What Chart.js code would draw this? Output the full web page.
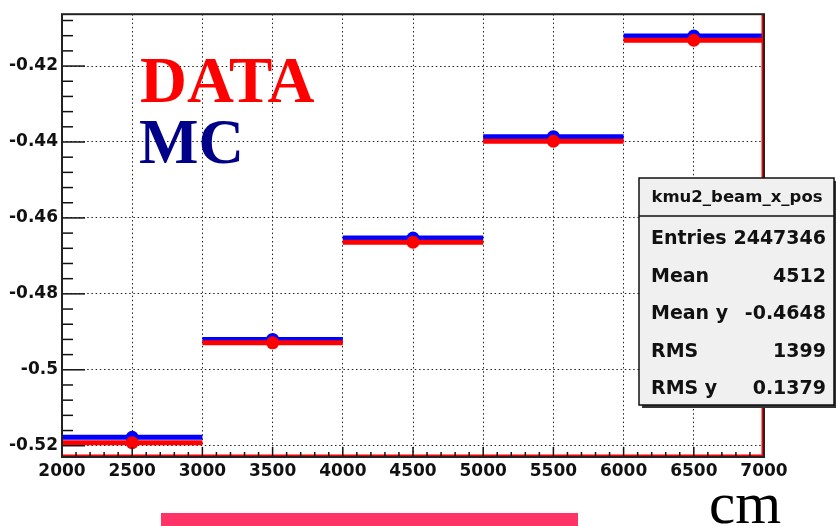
<!DOCTYPE html>
<html>
<head>
<meta charset="utf-8">
<script src="https://cdn.jsdelivr.net/npm/chart.js@4.4.1/dist/chart.umd.min.js"></script>
<style>
  body { margin: 0; background: #fff; }
  #wrap { position: relative; width: 836px; height: 526px; }
</style>
</head>
<body>
<div id="wrap"><canvas id="profile" width="836" height="526"></canvas></div>
<script>
// bin edges (cm) and mean value of each bin
const binEdges = [2000, 3000, 4000, 5000, 6000, 7000];
const dataValues = [-0.5192, -0.4929, -0.4664, -0.4398, -0.4132];
const mcValues = [-0.5178, -0.4920, -0.4653, -0.4386, -0.4121];

// axis labels
const xTicks = [2000, 2500, 3000, 3500, 4000, 4500, 5000, 5500, 6000, 6500, 7000];
const yTicks = [-0.52, -0.5, -0.48, -0.46, -0.44, -0.42];

// stats box
const statTitle = "kmu2_beam_x_pos";
const statNames = ["Entries", "Mean", "Mean y", "RMS", "RMS y"];
const statValues = ["2447346", "4512", "-0.4648", "1399", "0.1379"];

const RED = "#ff0000";
const BLUE = "#0000ff";

// one horizontal bar per bin, a null point in between so bins are not joined
function binSegments(values) {
  let pts = [];
  values.forEach((v, i) => {
    pts.push({x: binEdges[i], y: v});
    pts.push({x: binEdges[i + 1], y: v});
    pts.push({x: binEdges[i + 1], y: null});
  });
  return pts;
}

function binCentres(values) {
  return values.map((v, i) => ({x: (binEdges[i] + binEdges[i + 1]) / 2, y: v}));
}

// ### FRAME, TICKS, TEXT ###
const rootStyle = {
  id: "rootStyle",
  afterDatasetsDraw(chart) {
    let ctx = chart.ctx;
    let area = chart.chartArea;
    let xs = chart.scales.x;
    let ys = chart.scales.y;
    ctx.save();

    // red histogram edges on the right and bottom
    ctx.strokeStyle = RED;
    ctx.lineWidth = 2;
    ctx.beginPath();
    ctx.moveTo(area.right - 1.5, area.top);
    ctx.lineTo(area.right - 1.5, area.bottom - 1.5);
    ctx.lineTo(area.left, area.bottom - 1.5);
    ctx.stroke();

    // ticks
    ctx.strokeStyle = "#111";
    ctx.lineWidth = 1.5;
    let yStep = (yTicks[1] - yTicks[0]) / 5;
    for (let k = -140; k <= -95; k++) {
      let v = k * yStep;
      if (v < ys.min || v > ys.max) continue;
      let py = ys.getPixelForValue(v);
      let len = (k % 5 == 0) ? 23 : 11;
      ctx.beginPath();
      ctx.moveTo(area.left, py);
      ctx.lineTo(area.left + len, py);
      ctx.stroke();
    }
    let xStep = (xTicks[1] - xTicks[0]) / 5;
    for (let v = xTicks[0]; v <= xTicks[xTicks.length - 1]; v += xStep) {
      let px = xs.getPixelForValue(v);
      let len = ((v - xTicks[0]) % (xStep * 5) == 0) ? 10 : 5;
      ctx.beginPath();
      ctx.moveTo(px, area.bottom);
      ctx.lineTo(px, area.bottom - len);
      ctx.stroke();
    }

    // frame
    ctx.strokeStyle = "#222";
    ctx.lineWidth = 2;
    ctx.strokeRect(area.left, area.top, area.right - area.left, area.bottom - area.top);
    ctx.restore();
  },
  afterDraw(chart) {
    let ctx = chart.ctx;
    ctx.save();

    // DATA / MC labels
    ctx.textAlign = "left";
    ctx.textBaseline = "alphabetic";
    ctx.font = "bold 65px 'Liberation Serif'";
    ctx.fillStyle = RED;
    ctx.fillText("DATA", 140, 102);
    ctx.font = "bold 63px 'Liberation Serif'";
    ctx.fillStyle = "#000088";
    ctx.fillText("MC", 139, 163);

    // axis unit
    ctx.fillStyle = "#000";
    ctx.font = "59px 'Liberation Serif'";
    ctx.fillText("cm", 709, 523);

    // pink bar under the plot
    ctx.fillStyle = "#ff3366";
    ctx.fillRect(161, 513, 417, 13);

    // stats box
    let bx = 639, by = 178, bw = 195, bh = 227;
    ctx.fillStyle = "#333";
    ctx.fillRect(bx + 3, by + 3, bw, bh);
    ctx.fillStyle = "#f0f0f0";
    ctx.fillRect(bx, by, bw, bh);
    ctx.strokeStyle = "#111";
    ctx.lineWidth = 1.5;
    ctx.strokeRect(bx, by, bw, bh);
    ctx.beginPath();
    ctx.moveTo(bx, 216);
    ctx.lineTo(bx + bw, 216);
    ctx.stroke();

    ctx.fillStyle = "#111";
    ctx.font = "bold 16.5px 'DejaVu Sans'";
    ctx.textAlign = "center";
    ctx.fillText(statTitle, 737, 202);

    ctx.font = "bold 19px 'DejaVu Sans'";
    statNames.forEach((name, i) => {
      let base = 244 + i * 37.5;
      ctx.textAlign = "left";
      ctx.fillText(name, 651, base);
      ctx.textAlign = "right";
      ctx.fillText(statValues[i], 826, base);
    });
    ctx.restore();
  }
};

const tickFont = {family: "'DejaVu Sans'", size: 17, weight: "bold"};

new Chart(document.querySelector("#profile"), {
  type: "line",
  data: {
    datasets: [
      {
        label: "DATA points",
        data: binCentres(dataValues),
        showLine: false,
        pointRadius: 6.5,
        pointBackgroundColor: RED,
        pointBorderWidth: 0,
        order: 0
      },
      {
        label: "DATA",
        data: binSegments(dataValues),
        borderColor: RED,
        borderWidth: 5,
        pointRadius: 0,
        spanGaps: false,
        order: 1
      },
      {
        label: "MC points",
        data: binCentres(mcValues),
        showLine: false,
        pointRadius: 6.5,
        pointBackgroundColor: BLUE,
        pointBorderWidth: 0,
        order: 2
      },
      {
        label: "MC",
        data: binSegments(mcValues),
        borderColor: BLUE,
        borderWidth: 5,
        pointRadius: 0,
        spanGaps: false,
        order: 3
      }
    ]
  },
  options: {
    responsive: false,
    animation: false,
    layout: { padding: { top: 13, right: 72, left: 0, bottom: 0 } },
    plugins: { legend: { display: false }, tooltip: { enabled: false } },
    scales: {
      x: {
        type: "linear",
        min: 2000,
        max: 7000,
        afterBuildTicks: (scale) => { scale.ticks = xTicks.map(v => ({value: v})); },
        afterFit: (scale) => { scale.height = 69; },
        grid: { color: "#222", lineWidth: 1, drawTicks: false },
        border: { display: false, dash: [1.5, 2.7] },
        ticks: {
          autoSkip: false, maxRotation: 0, padding: 4, color: "#111", font: tickFont,
          callback: (v) => String(v)
        }
      },
      y: {
        type: "linear",
        min: -0.52297,
        max: -0.40634,
        afterBuildTicks: (scale) => { scale.ticks = yTicks.map(v => ({value: v})); },
        afterFit: (scale) => { scale.width = 62; },
        grid: { color: "#222", lineWidth: 1, drawTicks: false },
        border: { display: false, dash: [1.5, 2.7] },
        ticks: {
          padding: 4, color: "#111", font: tickFont,
          callback: (v) => String(Number(v.toFixed(2)))
        }
      }
    }
  },
  plugins: [rootStyle]
});
</script>
</body>
</html>
